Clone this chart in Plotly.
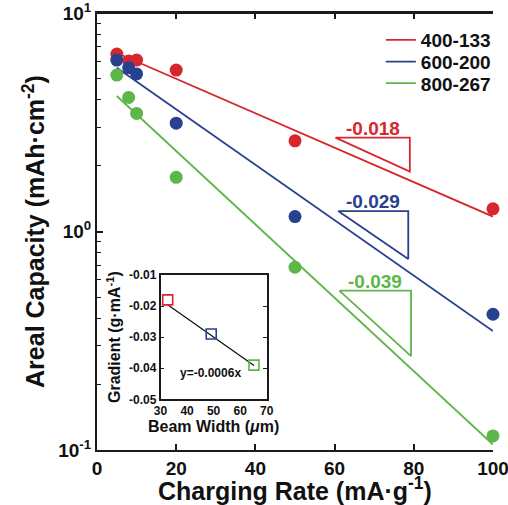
import math
import plotly.graph_objects as go

# ---------------- data ----------------
series_names = ["400-133", "600-200", "800-267"]
series_colors = ["#d8262e", "#28408e", "#5db648"]

rate = [5, 8, 10, 20, 50, 100]
cap_400_133 = [6.49, 6.03, 6.09, 5.48, 2.60, 1.27]
cap_600_200 = [6.09, 5.62, 5.26, 3.13, 1.17, 0.418]
cap_800_267 = [5.20, 4.11, 3.47, 1.77, 0.686, 0.116]

fit_rate = [5, 100]
fit_400_133 = [6.56, 1.17]
fit_600_200 = [5.61, 0.350]
fit_800_267 = [4.17, 0.106]

slope_labels = ["-0.018", "-0.029", "-0.039"]
tri_x = [[60.2, 79.0], [60.9, 78.6], [61.2, 79.3]]
tri_y = [[2.69, 1.88], [1.24, 0.748], [0.536, 0.269]]

x_ticks = [0, 20, 40, 60, 80, 100]
y_ticks = [0.1, 1, 10]
y_ticktext = ["10<sup>-1</sup>", "10<sup>0</sup>", "10<sup>1</sup>"]
y_minor = [0.2, 0.3, 0.4, 0.5, 0.6, 0.7, 0.8, 0.9, 2, 3, 4, 5, 6, 7, 8, 9]

beam_width = [32.7, 49.1, 65.2]
gradient = [-0.018, -0.029, -0.039]
inset_fit_x = [32.7, 65.2]
inset_fit_y = [-0.0196, -0.0391]
inset_x_ticks = [30, 40, 50, 60, 70]
inset_y_ticks = [-0.05, -0.04, -0.03, -0.02, -0.01]
inset_y_ticktext = ["-0.05", "-0.04", "-0.03", "-0.02", "-0.01"]

FONT = "Liberation Sans, Arial, Helvetica, sans-serif"
AX = "#1a1a1a"

# plot-area geometry (pixels)
W, H = 508, 505
ML, MR, MT, MB = 97, 12, 13, 55
PW, PH = W - ML - MR, H - MT - MB


def px_x(p):
    return (p - ML) / PW


def px_y(p):
    return (H - MB - p) / PH


fig = go.Figure()

caps = [cap_400_133, cap_600_200, cap_800_267]
fits = [fit_400_133, fit_600_200, fit_800_267]
legend_ids = ["legend", "legend2", "legend3"]

for name, col, fit, lg in zip(series_names, series_colors, fits, legend_ids):
    fig.add_trace(go.Scatter(x=fit_rate, y=fit, mode="lines", name=name, legend=lg,
                             line=dict(color=col, width=1.8), showlegend=True))
for name, col, cap in zip(series_names, series_colors, caps):
    fig.add_trace(go.Scatter(x=rate, y=cap, mode="markers", showlegend=False,
                             marker=dict(color=col, size=13, line=dict(width=0)),
                             cliponaxis=False))

# top frame of the main axes, drawn along the top of the y range
fig.add_trace(go.Scatter(x=[x_ticks[0], x_ticks[-1]], y=[y_ticks[-1], y_ticks[-1]],
                         mode="lines", showlegend=False, hoverinfo="skip",
                         line=dict(color=AX, width=2), cliponaxis=False))

# slope triangles
for col, tx, ty, lab in zip(series_colors, tri_x, tri_y, slope_labels):
    fig.add_trace(go.Scatter(x=[tx[0], tx[1], tx[1], tx[0]],
                             y=[ty[0], ty[0], ty[1], ty[0]],
                             mode="lines", showlegend=False,
                             line=dict(color=col, width=1.8)))
    fig.add_annotation(x=(tx[0] + tx[1]) / 2, y=math.log10(ty[0]), xref="x", yref="y",
                       text=lab, showarrow=False, yanchor="bottom", yshift=-3,
                       font=dict(family=FONT, size=19, color=col, weight="bold"))

# top frame line (paper shape, backup)
fig.add_shape(type="line", xref="paper", yref="paper", x0=0, x1=1, y0=1, y1=1,
              line=dict(color=AX, width=2), layer="above")

# inset
inset_cols = series_colors
fig.add_trace(go.Scatter(x=inset_fit_x, y=inset_fit_y, mode="lines", showlegend=False,
                         line=dict(color="#111111", width=1.3), xaxis="x2", yaxis="y2"))
fig.add_trace(go.Scatter(x=beam_width, y=gradient, mode="markers", showlegend=False,
                         marker=dict(symbol="square-open", size=10, color=inset_cols,
                                     line=dict(width=1.6, color=inset_cols)),
                         xaxis="x2", yaxis="y2", cliponaxis=False))
fig.add_annotation(x=48.7, y=-0.0415, xref="x2", yref="y2", text="y=-0.0006x",
                   showarrow=False, font=dict(family=FONT, size=12, color="#111", weight="bold"))

legend_font = dict(family=FONT, size=19, color="#111", weight="bold")
legend_rows = [px_y(40), px_y(61.7), px_y(83.3)]


def leg(yv):
    return dict(x=px_x(383), xanchor="left", y=yv, yanchor="middle",
                bgcolor="rgba(0,0,0,0)", font=legend_font, itemwidth=30)


fig.update_layout(
    width=W, height=H,
    margin=dict(l=ML, r=MR, t=MT, b=MB),
    paper_bgcolor="white", plot_bgcolor="white",
    font=dict(family=FONT, color="#111"),
    showlegend=True,
    legend=leg(legend_rows[0]),
    legend2=leg(legend_rows[1]),
    legend3=leg(legend_rows[2]),
    xaxis=dict(domain=[0, 1], range=[0, 100], tickvals=x_ticks,
               automargin=False, ticklabeloverflow="allow",
               ticks="inside", ticklen=6, tickwidth=1.5, tickcolor=AX,
               showline=True, linewidth=2, linecolor=AX, mirror="ticks",
               showgrid=False, zeroline=False,
               tickfont=dict(family=FONT, size=19, color="#111", weight="bold"),
               title=dict(text="Charging Rate (mA·g<sup>-1</sup>)", standoff=4,
                          font=dict(family=FONT, size=25, color="#111", weight="bold")),
               anchor="y"),
    yaxis=dict(domain=[0, 1], type="log", range=[-1, 1],
               automargin=False, ticklabeloverflow="allow",
               tickvals=y_ticks, ticktext=y_ticktext,
               ticks="inside", ticklen=6, tickwidth=1.5, tickcolor=AX,
               minor=dict(tickvals=y_minor, ticks="inside", ticklen=4, tickwidth=1.3,
                          tickcolor=AX, showgrid=False),
               showline=True, linewidth=2, linecolor=AX, mirror=False,
               showgrid=False, zeroline=False,
               tickfont=dict(family=FONT, size=19, color="#111", weight="bold"),
               title=dict(text="Areal Capacity (mAh·cm<sup>-2</sup>)", standoff=6,
                          font=dict(family=FONT, size=25, color="#111", weight="bold")),
               anchor="x"),
    xaxis2=dict(domain=[px_x(161), px_x(268)], range=[30, 70], tickvals=inset_x_ticks,
                automargin=False, ticklabeloverflow="allow",
                ticks="", showline=True, linewidth=1.5, linecolor=AX, mirror=True,
                showgrid=False, zeroline=False, anchor="y2",
                tickfont=dict(family=FONT, size=12, color="#111", weight="bold"),
                title=dict(text="Beam Width (<i>μ</i>m)", standoff=2,
                           font=dict(family=FONT, size=16, color="#111", weight="bold"))),
    yaxis2=dict(domain=[px_y(399.3), px_y(275)], range=[-0.05, -0.01],
                automargin=False, ticklabeloverflow="allow",
                tickvals=inset_y_ticks, ticktext=inset_y_ticktext,
                ticks="inside", ticklen=4, tickwidth=1.2, tickcolor=AX,
                showline=True, linewidth=1.5, linecolor=AX, mirror="ticks",
                showgrid=False, zeroline=False, anchor="x2",
                tickfont=dict(family=FONT, size=12, color="#111", weight="bold"),
                title=dict(text="Gradient (g·mA<sup>-1</sup>)", standoff=4,
                           font=dict(family=FONT, size=16, color="#111", weight="bold"))),
)

fig.write_html("out.html", config={"displayModeBar": False},
               post_script="document.body.style.margin='0';document.body.style.overflow='hidden';")
